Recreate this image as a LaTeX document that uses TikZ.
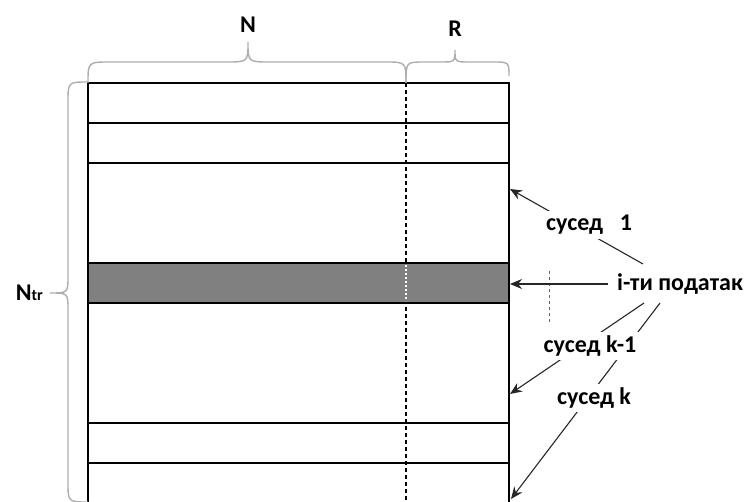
\documentclass[tikz,border=0pt]{standalone}
\usepackage{fontspec}
\setmainfont{Carlito}
\usetikzlibrary{arrows.meta}
\begin{document}
\begin{tikzpicture}[x=1pt,y=-1pt,
  grid/.style={line width=1.3pt,black},
  bracestyle/.style={line width=1.4pt,draw=black!32},
  arr/.style={line width=1.1pt,draw=black!85,-{Stealth[length=12pt,width=10pt]}},
  lab/.style={font=\fontsize{24}{28}\selectfont\bfseries,inner sep=1pt},
  labw/.style={lab,fill=white,inner sep=4pt}]
\useasboundingbox (0,0) rectangle (746,502);
\clip (0,0) rectangle (746,502);
% dashed divider
\draw[line width=1.4pt,dash pattern=on 4pt off 3pt] (406,83) -- (406,540);
% selected row
\fill[black!50] (88,263) rectangle (509,303);
\draw[white,line width=1.2pt,dash pattern=on 2pt off 2pt] (406,265) -- (406,301);
% table
\draw[grid] (88,540) -- (88,83) -- (509,83) -- (509,540);
\foreach \yy in {83,123,163,263,303,423,463}
  \draw[grid] (88,\yy) -- (509,\yy);
% braces
\draw[bracestyle] (88,83) .. controls (88,62) .. (110,62) -- (226,62)
   .. controls (248,62) .. (248,42) .. controls (248,62) .. (270,62) -- (385,62)
   .. controls (406,62) .. (406,83);
\draw[bracestyle] (406,83) .. controls (406,62) .. (424,62) -- (440,62)
   .. controls (455,62) .. (455,50) .. controls (455,62) .. (470,62) -- (492,62)
   .. controls (509,62) .. (509,76);
\draw[bracestyle] (88,82) .. controls (68,82) .. (68,102) -- (68,276)
   .. controls (68,293) .. (50,293) .. controls (68,293) .. (68,310) -- (68,482)
   .. controls (68,502) .. (88,502);
\node[lab] (nN) at (248,25) {N};
\node[lab] (nR) at (455,29) {R};
\node[lab,anchor=east] (nNtr) at (44,293) {N{\fontsize{16}{19}\selectfont tr}};
% vertical dots
\draw[line width=0.9pt,black!60,dash pattern=on 3pt off 3pt] (549,271) -- (549,323);
% arrows
\coordinate (a1) at (643,264);
\coordinate (t1) at (510,189);
\coordinate (a2) at (608,284);
\coordinate (t2) at (510,284);
\coordinate (a3) at (644,303);
\coordinate (t3) at (510,394);
\coordinate (a4) at (660,303);
\coordinate (t4) at (511,499);
\draw[arr] (a1) -- (t1);
\draw[arr] (a2) -- (t2);
\draw[arr] (a3) -- (t3);
\draw[arr] (a4) -- (t4);
\node[labw] (s1) at (589,225) {сусед\hspace{0.7em}1};
\node[lab,anchor=west] (ip) at (616,284) {і-ти податак};
\node[labw] (sk1) at (590,346) {сусед k-1};
\node[labw] (sk) at (594,398) {сусед k};
\end{tikzpicture}
\end{document}
